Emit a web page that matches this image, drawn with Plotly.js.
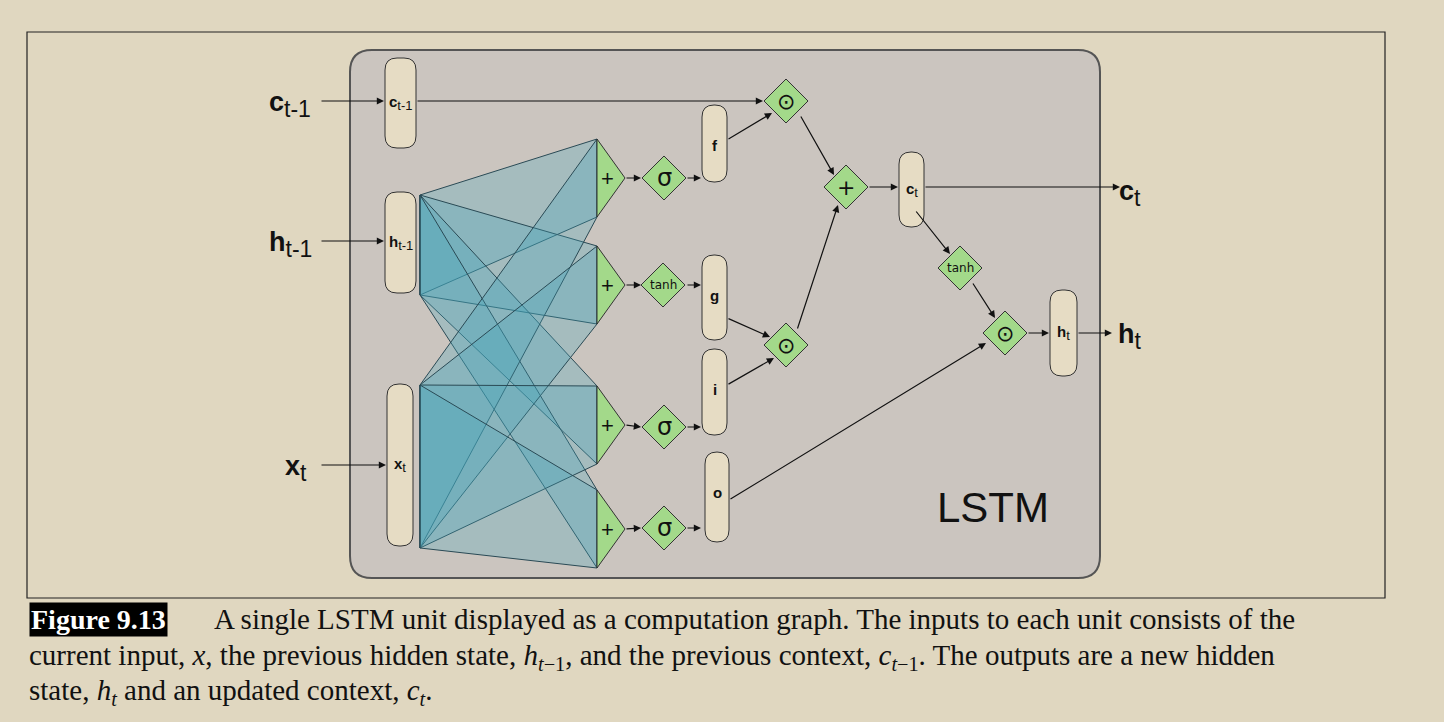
<!DOCTYPE html>
<html>
<head>
<meta charset="utf-8">
<script src="https://cdn.plot.ly/plotly-3.0.1.min.js"></script>
<style>body{margin:0;background:#e0d7c0}</style>
</head>
<body>
<div id="plot" style="width:1444px;height:722px"></div>
<script>
// pill nodes (vectors): label, subscript, x0, x1, y0, y1
var pillLabels = ["c", "h", "x", "f", "g", "i", "o", "c", "h"];
var pillSubs = ["t-1", "t-1", "t", "", "", "", "", "t", "t"];
var pillX0 = [385, 385, 387, 702, 702, 702, 705, 899, 1050];
var pillX1 = [416, 416, 413, 727, 727, 727, 729, 924, 1077];
var pillY0 = [58, 192, 384, 105, 255, 349, 452, 152, 290];
var pillY1 = [148, 293, 546, 182, 340, 435, 542, 227, 376];

// summing triangles: centre y, half height
var triY = [178, 285, 425, 529];
var triH = 39;

// diamond operators: label, x, y, half size
var diaLabels = ["σ", "tanh", "σ", "σ", "⊙", "+", "⊙", "tanh", "⊙"];
var diaX = [664, 663, 664, 664, 786, 846, 786, 960, 1005];
var diaY = [178, 285, 427, 528, 101, 187, 345, 268, 333];
var diaR = [22, 22, 22, 22, 22, 22, 22, 22, 22];

// arrows: tail x,y -> head x,y
var arrTailX = [320, 416, 320, 320, 625, 625, 625, 625, 686, 686, 686, 686, 727, 727, 727, 800, 797, 868, 924, 915, 972, 729, 1027, 1077];
var arrTailY = [101, 101, 241, 465, 178, 285, 425, 529, 178, 285, 427, 528, 140, 318, 385, 115, 330, 187, 187, 210, 282, 500, 333, 333];
var arrHeadX = [384, 763, 384, 386, 641, 641, 641, 641, 701, 701, 701, 701, 772, 770, 774, 834, 838, 898, 1120, 950, 995, 986, 1049, 1112];
var arrHeadY = [101, 101, 241, 465, 178, 285, 427, 528, 178, 285, 427, 528, 113, 337, 358, 175, 205, 187, 187, 254, 318, 343, 333, 333];

// outer labels
var ioLabels = ["c", "h", "x", "c", "h"];
var ioSubs = ["t-1", "t-1", "t", "t", "t"];
var ioX = [290, 290, 296, 1130, 1130];
var ioY = [104, 244, 468, 193, 336];

var shapes = [];
var annotations = [];

// figure frame and LSTM box
shapes.push({type: "rect", x0: 27, x1: 1385, y0: 32, y1: 598, line: {color: "#222", width: 1.2}, fillcolor: "rgba(0,0,0,0)"});
shapes.push({type: "path", path: roundRect(350, 50, 1100, 578, 22), fillcolor: "#cbc5bf", line: {color: "#555", width: 2}});

function roundRect(x0, y0, x1, y1, r) {
	return "M" + (x0 + r) + "," + y0 + " L" + (x1 - r) + "," + y0 + " Q" + x1 + "," + y0 + " " + x1 + "," + (y0 + r) +
		" L" + x1 + "," + (y1 - r) + " Q" + x1 + "," + y1 + " " + (x1 - r) + "," + y1 +
		" L" + (x0 + r) + "," + y1 + " Q" + x0 + "," + y1 + " " + x0 + "," + (y1 - r) +
		" L" + x0 + "," + (y0 + r) + " Q" + x0 + "," + y0 + " " + (x0 + r) + "," + y0 + " Z";
}

// label with a subscript that stays close to full size
function subLabel(base, sub, size) {
	if (!sub) return "<b>" + base + "</b>";
	return "<b>" + base + "</b><sub><span style=\"font-size:" + Math.round(size * 0.85) + "px\">" + sub + "</span></sub>";
}

// fan connections from h_{t-1} and x_t to every summing triangle
var srcTop = [195, 385];
var srcBot = [295, 548];
for (var s = 0; s < 2; s++) {
	for (var t = 0; t < triY.length; t++) {
		shapes.push({type: "path",
			path: "M420," + srcTop[s] + " L597," + (triY[t] - triH) + " L597," + (triY[t] + triH) + " L420," + srcBot[s] + " Z",
			fillcolor: "rgba(70,165,185,0.28)", line: {color: "#2a4a55", width: 1}});
	}
}

// triangles
for (var t = 0; t < triY.length; t++) {
	shapes.push({type: "path", path: "M597," + (triY[t] - triH) + " L625," + triY[t] + " L597," + (triY[t] + triH) + " Z",
		fillcolor: "#a3d98a", line: {color: "#333", width: 1}});
	annotations.push({x: 607, y: triY[t], text: "+", showarrow: false, font: {size: 22, color: "#111", family: "Liberation Sans"}});
}

// pills
for (var p = 0; p < pillLabels.length; p++) {
	var r = (pillX1[p] - pillX0[p]) / 2;
	shapes.push({type: "path", path: roundRect(pillX0[p], pillY0[p], pillX1[p], pillY1[p], Math.min(r, 12)),
		fillcolor: "#e6dcc4", line: {color: "#333", width: 1}});
	annotations.push({x: (pillX0[p] + pillX1[p]) / 2, y: p >= 3 && p <= 6 ? pillY0[p] + 40 : (pillY0[p] + pillY1[p]) / 2,
		text: subLabel(pillLabels[p], pillSubs[p], 15), showarrow: false, font: {size: 15, color: "#111", family: "Liberation Sans"}});
}

// diamonds
for (var d = 0; d < diaLabels.length; d++) {
	var x = diaX[d], y = diaY[d], h = diaR[d];
	shapes.push({type: "path", path: "M" + (x - h) + "," + y + " L" + x + "," + (y - h) + " L" + (x + h) + "," + y + " L" + x + "," + (y + h) + " Z",
		fillcolor: "#a3d98a", line: {color: "#333", width: 1}});
	var sz = diaLabels[d] == "tanh" ? 12 : (diaLabels[d] == "σ" ? 24 : 22);
	annotations.push({x: x, y: y, text: diaLabels[d], showarrow: false, font: {size: sz, color: "#111", family: "DejaVu Sans"}});
}

// arrows
for (var a = 0; a < arrTailX.length; a++) {
	annotations.push({x: arrHeadX[a], y: arrHeadY[a], ax: arrTailX[a], ay: arrTailY[a], axref: "x", ayref: "y",
		text: "", showarrow: true, arrowhead: 2, arrowsize: 1.2, arrowwidth: 1.2, arrowcolor: "#111"});
}

// in/out labels
for (var k = 0; k < ioLabels.length; k++) {
	annotations.push({x: ioX[k], y: ioY[k], text: subLabel(ioLabels[k], ioSubs[k], 27), showarrow: false,
		font: {size: 27, color: "#111", family: "Liberation Sans"}});
}

annotations.push({x: 993, y: 507, text: "LSTM", showarrow: false, font: {size: 42, color: "#111", family: "Liberation Sans"}});

// caption
var capFont = {size: 29, color: "#111", family: "Liberation Serif"};
annotations.push({x: 29, y: 619, xanchor: "left", text: "<b>Figure 9.13</b>", showarrow: false, bgcolor: "#000",
	font: {size: 28, color: "#fff", family: "Liberation Serif"}, borderpad: 1});
annotations.push({x: 212, y: 619, xanchor: "left", showarrow: false, font: capFont,
	text: "A single LSTM unit displayed as a computation graph. The inputs to each unit consists of the"});
annotations.push({x: 27, y: 657, xanchor: "left", showarrow: false, font: capFont,
	text: "current input, <i>x</i>, the previous hidden state, <i>h</i><sub><i>t</i>−1</sub>, and the previous context, <i>c</i><sub><i>t</i>−1</sub>. The outputs are a new hidden"});
annotations.push({x: 27, y: 692, xanchor: "left", showarrow: false, font: capFont,
	text: "state, <i>h<sub>t</sub></i> and an updated context, <i>c<sub>t</sub></i>."});

var layout = {
	width: 1444, height: 722,
	margin: {l: 0, r: 0, t: 0, b: 0},
	paper_bgcolor: "#e0d7c0", plot_bgcolor: "#e0d7c0",
	xaxis: {range: [0, 1444], visible: false, fixedrange: true},
	yaxis: {range: [722, 0], visible: false, fixedrange: true},
	shapes: shapes, annotations: annotations, showlegend: false
};
Plotly.newPlot("plot", [], layout, {displayModeBar: false});
</script>
</body>
</html>
